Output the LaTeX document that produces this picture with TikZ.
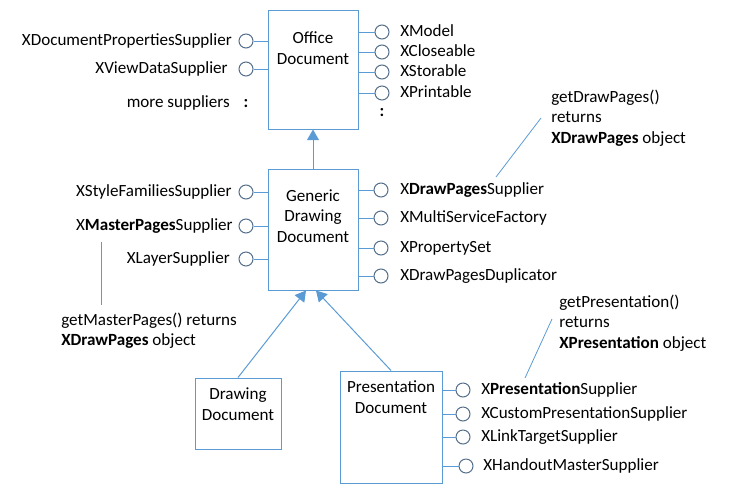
\documentclass[tikz,border=0pt]{standalone}
\usepackage{fontspec}
\setmainfont{Carlito}
\usepackage{tikz}
\usetikzlibrary{arrows.meta, fit}

\definecolor{umlblue}{RGB}{91,155,213}
\definecolor{plugslate}{RGB}{84,110,138}

\begin{document}
\begin{tikzpicture}[x=0.75pt,y=-0.75pt,
		font=\fontsize{12.8}{15.4}\selectfont,
		docbox/.style={draw=umlblue,line width=0.75pt,inner sep=0pt},
		plug/.style={circle,draw=plugslate,line width=0.75pt,minimum size=10.5pt,inner sep=0pt},
		iface/.style={inner sep=0pt,text height=0.64em,text depth=0pt},
		note/.style={align=left,inner sep=0pt,anchor=west},
		inherit/.style={draw=umlblue,line width=0.75pt,-{Triangle[width=9pt,length=8pt]}}]
	\useasboundingbox (0,0) rectangle (730,500);
	% class boxes
	\node[docbox,fit={(268,10) (358,129)}] (office) {};
	\node[docbox,fit={(268,169) (358,290)}] (generic) {};
	\node[docbox,fit={(195,378) (281,449)}] (drawing) {};
	\node[docbox,fit={(340,371) (442,483)}] (present) {};
	\begin{scope}[every node/.style={align=center,inner sep=0pt}]
		\node (officeT) at (313,48) {Office\\Document};
		\node (genericT) at (313,216) {Generic\\Drawing\\Document};
		\node (drawingT) at (238,404) {Drawing\\Document};
		\node (presentT) at (391,397) {Presentation\\Document};
	\end{scope}
	% interface circles
	\begin{scope}[every node/.style={plug}]
		\node (oL1) at (246,41) {};
		\node (oL2) at (246,69) {};
		\node (oR1) at (382,32) {};
		\node (oR2) at (382,52) {};
		\node (oR3) at (382,72) {};
		\node (oR4) at (382,93) {};
		\node (gL1) at (246,192) {};
		\node (gL2) at (246,226) {};
		\node (gL3) at (246,259) {};
		\node (gR1) at (381,190) {};
		\node (gR2) at (381,218) {};
		\node (gR3) at (381,248) {};
		\node (gR4) at (381,276) {};
		\node (pR1) at (463,390) {};
		\node (pR2) at (463,414) {};
		\node (pR3) at (463,437) {};
		\node (pR4) at (466,466) {};
	\end{scope}
	\begin{scope}[every edge/.style={draw=umlblue,line width=0.75pt}]
		\path (oL1) edge (oL1 -| office.west);
		\path (oL2) edge (oL2 -| office.west);
		\path (oR1) edge (oR1 -| office.east);
		\path (oR2) edge (oR2 -| office.east);
		\path (oR3) edge (oR3 -| office.east);
		\path (oR4) edge (oR4 -| office.east);
		\path (gL1) edge (gL1 -| generic.west);
		\path (gL2) edge (gL2 -| generic.west);
		\path (gL3) edge (gL3 -| generic.west);
		\path (gR1) edge (gR1 -| generic.east);
		\path (gR2) edge (gR2 -| generic.east);
		\path (gR3) edge (gR3 -| generic.east);
		\path (gR4) edge (gR4 -| generic.east);
		\path (pR1) edge (pR1 -| present.east);
		\path (pR2) edge (pR2 -| present.east);
		\path (pR3) edge (pR3 -| present.east);
		\path (pR4) edge (pR4 -| present.east);
	\end{scope}
	% interface names
	\begin{scope}[every node/.style={iface,anchor=east}]
		\node (oL1t) at (232,41) {XDocumentPropertiesSupplier};
		\node (oL2t) at (228,69) {XViewDataSupplier};
		\node (oL3t) at (230,103) {more suppliers};
		\node (gL1t) at (232,192) {XStyleFamiliesSupplier};
		\node (gL2t) at (233,226) {X\textbf{MasterPages}Supplier};
		\node (gL3t) at (230,259) {XLayerSupplier};
	\end{scope}
	\begin{scope}[every node/.style={iface,anchor=west}]
		\node (oR1t) at (400,32) {XModel};
		\node (oR2t) at (400,52) {XCloseable};
		\node (oR3t) at (400,72) {XStorable};
		\node (oR4t) at (400,93) {XPrintable};
		\node (gR1t) at (400,190) {X\textbf{DrawPages}Supplier};
		\node (gR2t) at (400,218) {XMultiServiceFactory};
		\node (gR3t) at (400,248) {XPropertySet};
		\node (gR4t) at (400,276) {XDrawPagesDuplicator};
		\node (pR1t) at (481,390) {X\textbf{Presentation}Supplier};
		\node (pR2t) at (481,414) {XCustomPresentationSupplier};
		\node (pR3t) at (481,437) {XLinkTargetSupplier};
		\node (pR4t) at (483,466) {XHandoutMasterSupplier};
	\end{scope}
	\node[font=\bfseries\fontsize{12.8}{15.4}\selectfont] (oLdots) at (246,104) {:};
	\node[font=\bfseries\fontsize{12.8}{15.4}\selectfont] (oRdots) at (382,113) {:};
	% notes
	\node[note] (drawNote) at (551,118) {getDrawPages()\\returns\\\textbf{XDrawPages} object};
	\node[note] (masterNote) at (61,330.5) {getMasterPages() returns\\\textbf{XDrawPages} object};
	\node[note] (presNote) at (559,323) {getPresentation()\\returns\\\textbf{XPresentation} object};
	\coordinate (drawA) at (541,118);
	\coordinate (drawB) at (496,177);
	\coordinate (masterA) at (101,242);
	\coordinate (masterB) at (101,305);
	\coordinate (presA) at (552,319);
	\coordinate (presB) at (525,378);
	\begin{scope}[every edge/.style={draw=umlblue,line width=0.6pt}]
		\path (drawA) edge (drawB);
		\path (masterA) edge (masterB);
		\path (presA) edge (presB);
	\end{scope}
	% inheritance
	\coordinate (tipD) at (306,290.5);
	\coordinate (tipP) at (316,290.5);
	\draw[inherit] (generic.north) -- (office.south);
	\draw[inherit] (drawing.north) -- (tipD);
	\draw[inherit] (present.north) -- (tipP);
\end{tikzpicture}
\end{document}
